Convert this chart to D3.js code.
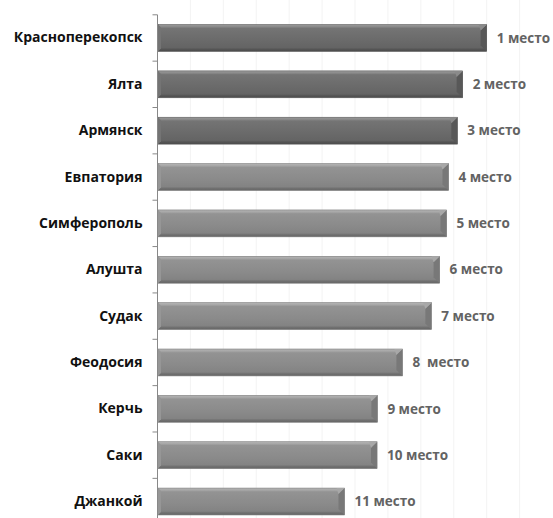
<!DOCTYPE html>
<html><head><meta charset="utf-8">
<script src="https://cdn.jsdelivr.net/npm/d3@7"></script>
<style>html,body{margin:0;padding:0;background:#fff;}svg{display:block;}</style>
</head><body>
<svg id="c" width="553" height="518"></svg>
<script>
const categories = ["Красноперекопск","Ялта","Армянск","Евпатория","Симферополь","Алушта","Судак","Феодосия","Керчь","Саки","Джанкой"];
const values = [100, 92.7, 91.1, 88.4, 87.8, 85.7, 83.2, 74.4, 66.8, 66.7, 56.8];
const places = ["1 место","2 место","3 место","4 место","5 место","6 место","7 место","8  место","9 место","10 место","11 место"];
const dark = [true,true,true,false,false,false,false,false,false,false,false];
const gridTicks = [10,20,30,40,50,60,70,80,90,100,110];

const svg = d3.select("#c");
const x0 = 157.5;
const x = d3.scaleLinear().domain([0,120]).range([x0, x0+395]);
const y = d3.scaleBand().domain(categories).range([14.8, 524.7]).paddingInner(0.42).paddingOuter(0.21);

const defs = svg.append("defs");
function grad(id, stops){
  const g = defs.append("linearGradient").attr("id",id).attr("x1",0).attr("y1",0).attr("x2",0).attr("y2",1);
  stops.forEach(s=>g.append("stop").attr("offset",s[0]).attr("stop-color",s[1]));
}
grad("gDark", [[0,"#9a9a9a"],[0.08,"#8a8a8a"],[0.14,"#747474"],[0.6,"#6a6a6a"],[0.86,"#646464"],[0.92,"#555"],[1,"#4a4a4a"]]);
grad("gLight",[[0,"#b5b5b5"],[0.08,"#a6a6a6"],[0.14,"#939393"],[0.6,"#8a8a8a"],[0.86,"#838383"],[0.92,"#707070"],[1,"#666"]]);

// faint gridlines
svg.append("g").selectAll("line").data(gridTicks).join("line")
  .attr("x1",d=>x(d)).attr("x2",d=>x(d)).attr("y1",0).attr("y2",518)
  .attr("stroke","#f3f3f3").attr("stroke-width",1);

// bars
const bars = svg.append("g").selectAll("g").data(categories).join("g");
const bh = y.bandwidth();
bars.append("rect")
  .attr("x", x(0)+0.5).attr("y", d=>y(d))
  .attr("width", (d,i)=>x(values[i])-x(0)-0.5).attr("height", bh)
  .attr("fill", (d,i)=>dark[i]?"url(#gDark)":"url(#gLight)")
  .attr("stroke", (d,i)=>dark[i]?"#5a5a5a":"#7a7a7a").attr("stroke-width",0.6);
// right bevel
const bev = 6;
bars.append("path")
  .attr("d",(d,i)=>{const xe=x(values[i]), yt=y(d); return `M${xe-bev},${yt+bev} L${xe},${yt} L${xe},${yt+bh} L${xe-bev},${yt+bh-bev} Z`;})
  .attr("fill",(d,i)=>dark[i]?"#585858":"#787878");
bars.append("path")
  .attr("d",(d,i)=>{const xe=x(values[i]), yt=y(d); return `M${xe-bev},${yt+bev} L${xe},${yt} L${xe-bev-2},${yt} Z`;})
  .attr("fill",(d,i)=>dark[i]?"#8a8a8a":"#a8a8a8");
// left bevel
bars.append("path")
  .attr("d",(d,i)=>{const xs=x(0)+0.5, yt=y(d); return `M${xs},${yt} L${xs+3},${yt+3} L${xs+3},${yt+bh-3} L${xs},${yt+bh} Z`;})
  .attr("fill",(d,i)=>dark[i]?"#747474":"#969696");

// value labels
bars.append("text")
  .attr("x",(d,i)=>x(values[i])+10).attr("y",d=>y(d)+bh/2)
  .attr("dy","0.35em")
  .attr("font-family","Open Sans, sans-serif").attr("font-weight",700).attr("font-size",13.5)
  .attr("fill","#636363").attr("xml:space","preserve").style("white-space","pre")
  .text((d,i)=>places[i]);

// axis
const ax = svg.append("g").attr("transform",`translate(${x0},0)`)
  .call(d3.axisLeft(y).tickSize(0).tickPadding(15));
ax.select(".domain").remove();
ax.selectAll("text").attr("font-family","Open Sans, sans-serif").attr("font-weight",700).attr("font-size",14).attr("fill","#111");
const edges = categories.map(d=>y(d)-y.step()*0.21).concat([y(categories[categories.length-1])-y.step()*0.21+y.step()]);
svg.append("line").attr("x1",x0).attr("x2",x0).attr("y1",edges[0]).attr("y2",edges[edges.length-1]).attr("stroke","#888").attr("stroke-width",1);
svg.append("g").selectAll("line").data(edges).join("line")
  .attr("x1",x0-5).attr("x2",x0).attr("y1",d=>d).attr("y2",d=>d)
  .attr("stroke","#888").attr("stroke-width",1);
</script>
</body></html>
